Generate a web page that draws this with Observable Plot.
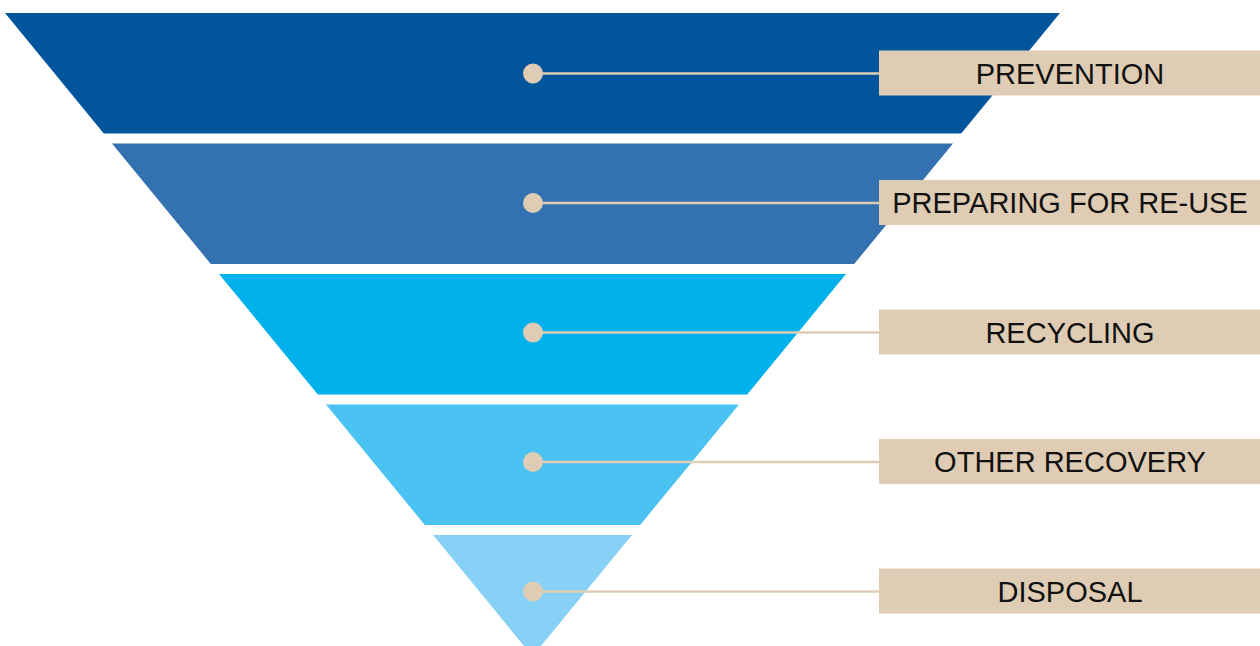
<!DOCTYPE html>
<html>
<head>
<meta charset="utf-8">
<script src="https://cdn.jsdelivr.net/npm/d3@7"></script>
<script src="https://cdn.jsdelivr.net/npm/@observablehq/plot@0.6"></script>
<style>
  html, body { margin: 0; padding: 0; background: #ffffff; }
  #chart svg { display: block; }
</style>
</head>
<body>
<div id="chart"></div>
<script>
// ---- data ----
const levels = ["PREVENTION", "PREPARING FOR RE-USE", "RECYCLING", "OTHER RECOVERY", "DISPOSAL"];
const levelColors = ["#00559d", "#3371b0", "#00b1ec", "#4ac2f2", "#86d1f5"];
const labelFill = "#dfccb5";

// ---- layout ----
const W = 1260, H = 646;
const cx = 532.5;          // funnel centre
const top0 = 13;           // top of first band
const halfTop = 527.5;     // half-width at top
const slope = 0.82;        // half-width shrink per px
const step = 130.5;        // band pitch
const bandH = 120.5;       // band height
const labelTop = 73;       // first label line
const labelStep = 129.5;   // label pitch
const boxX1 = 879, boxX2 = 1260, boxHalf = 22.5;

const half = y => Math.max(0, halfTop - slope * (y - top0));

const bandPts = levels.flatMap((name, i) => {
  const yT = top0 + i * step;
  const yB = yT + bandH;
  return [
    {name, i, y: yT, x1: cx - half(yT), x2: cx + half(yT)},
    {name, i, y: yB, x1: cx - half(yB), x2: cx + half(yB)}
  ];
});

const labels = levels.map((name, i) => ({
  name, i,
  y: labelTop + i * labelStep,
}));

const plot = Plot.plot({
  width: W,
  height: H,
  margin: 0,
  x: {domain: [0, W], range: [0, W], axis: null},
  y: {domain: [0, H], range: [0, H], axis: null},
  color: {domain: levels, range: levelColors},
  style: {fontFamily: "'Liberation Sans', Arial, sans-serif", background: "#ffffff"},
  marks: [
    Plot.areaX(bandPts, {y: "y", x1: "x1", x2: "x2", z: "name", fill: "name", curve: "linear"}),
    Plot.link(labels, {x1: cx, x2: boxX1, y1: "y", y2: "y", stroke: labelFill, strokeWidth: 2.5}),
    Plot.dot(labels, {x: cx, y: "y", r: 10, fill: labelFill}),
    Plot.rect(labels, {x1: boxX1, x2: boxX2, y1: d => d.y - boxHalf, y2: d => d.y + boxHalf, fill: labelFill}),
    Plot.text(labels, {x: (boxX1 + boxX2) / 2, y: d => d.y + 1, text: "name", fontSize: 29, fill: "#111111", textAnchor: "middle", lineAnchor: "middle"})
  ]
});

document.getElementById("chart").appendChild(plot);
</script>
</body>
</html>
